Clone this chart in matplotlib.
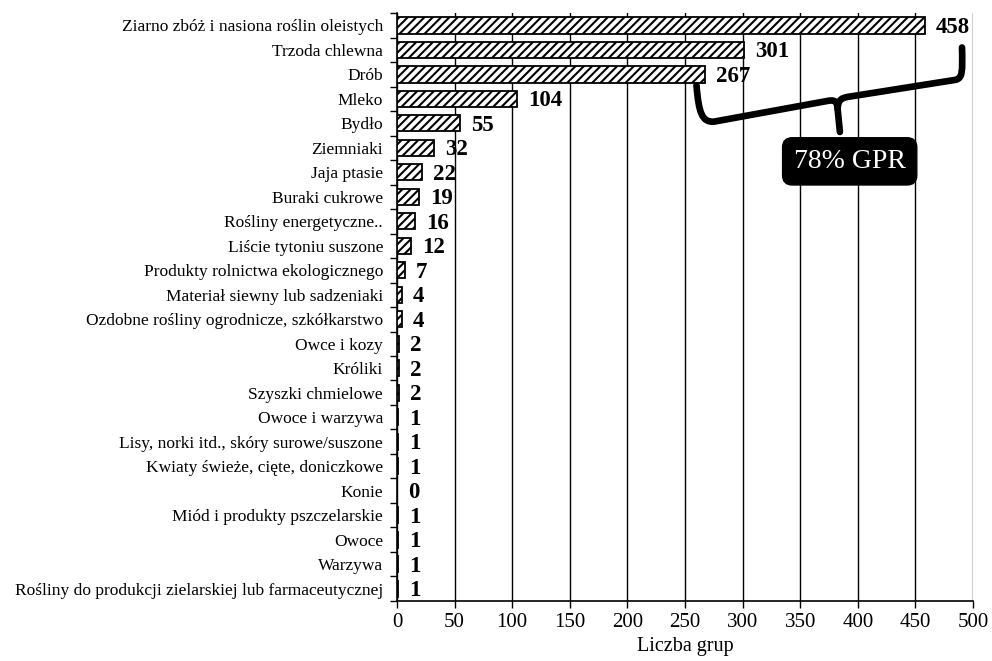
import numpy as np
import matplotlib.pyplot as plt
from matplotlib.path import Path
from matplotlib.patches import PathPatch

plt.rcParams['font.family'] = ['Liberation Serif', 'DejaVu Serif']
plt.rcParams['hatch.linewidth'] = 1.5

categories = [
    'Ziarno zbóż i nasiona roślin oleistych',
    'Trzoda chlewna',
    'Drób',
    'Mleko',
    'Bydło',
    'Ziemniaki',
    'Jaja ptasie',
    'Buraki cukrowe',
    'Rośliny energetyczne..',
    'Liście tytoniu suszone',
    'Produkty rolnictwa ekologicznego',
    'Materiał siewny lub sadzeniaki',
    'Ozdobne rośliny ogrodnicze, szkółkarstwo',
    'Owce i kozy',
    'Króliki',
    'Szyszki chmielowe',
    'Owoce i warzywa',
    'Lisy, norki itd., skóry surowe/suszone',
    'Kwiaty świeże, cięte, doniczkowe',
    'Konie',
    'Miód i produkty pszczelarskie',
    'Owoce',
    'Warzywa',
    'Rośliny do produkcji zielarskiej lub farmaceutycznej',
]
values = [458, 301, 267, 104, 55, 32, 22, 19, 16, 12, 7, 4, 4, 2, 2, 2, 1, 1, 1, 0, 1, 1, 1, 1]
xticks = [0, 50, 100, 150, 200, 250, 300, 350, 400, 450, 500]

fig = plt.figure(figsize=(9.92, 6.61), dpi=100)
ax = fig.add_axes([0.4002, 0.091, 0.5806, 0.889])

y = np.arange(len(categories))
ax.barh(y, values, height=0.66, color='white', edgecolor='black',
        hatch='////', linewidth=1.3, zorder=3)

for yi, v in zip(y, values):
    ax.annotate(str(v), xy=(v, yi + 0.08), xytext=(8, 0), textcoords='offset points',
                va='center', ha='left', fontsize=16.5, fontweight='bold', zorder=4)

ax.set_xlim(0, 500)
ax.set_ylim(len(categories) - 0.5, -0.5)
ax.set_xticks(xticks)
ax.tick_params(axis='x', labelsize=15, length=5, direction='out', width=1)
ax.set_yticks(y)
ax.set_yticklabels(categories, fontsize=12.5)
ax.set_yticks(np.arange(-0.5, len(categories), 1), minor=True)
ax.tick_params(axis='y', which='major', length=0, pad=10)
ax.tick_params(axis='y', which='minor', length=5, width=1)
ax.grid(axis='x', color='black', linewidth=1.0, zorder=0)
ax.set_axisbelow(True)
for side in ['top', 'right']:
    ax.spines[side].set_visible(False)
ax.spines['left'].set_linewidth(1.2)
ax.spines['bottom'].set_linewidth(1.2)
ax.set_xlabel('Liczba grup', fontsize=14.5, labelpad=4)

# brace grouping the three largest groups
lw = 4.8
left_half = Path(
    [(260, 2.45), (262, 3.6), (265, 3.95), (275, 3.93),
     (374, 3.08), (379, 3.04), (382, 3.05), (382.5, 3.4), (384.5, 4.35)],
    [Path.MOVETO, Path.CURVE4, Path.CURVE4, Path.CURVE4,
     Path.LINETO, Path.CURVE4, Path.CURVE4, Path.CURVE4, Path.LINETO])
right_half = Path(
    [(382.5, 3.4), (383, 3.02), (386, 2.97), (391, 2.92),
     (485, 2.22), (491, 2.15), (491, 1.9), (490.5, 0.9)],
    [Path.MOVETO, Path.CURVE4, Path.CURVE4, Path.CURVE4,
     Path.LINETO, Path.CURVE4, Path.CURVE4, Path.CURVE4])
for p in (left_half, right_half):
    ax.add_patch(PathPatch(p, facecolor='none', edgecolor='black', linewidth=lw,
                           capstyle='round', joinstyle='round', zorder=5))

ax.text(393, 5.55, '78% GPR', color='white', fontsize=20, ha='center', va='center',
        zorder=6,
        bbox=dict(boxstyle='round,pad=0.4,rounding_size=0.35', facecolor='black',
                  edgecolor='black'))

plt.savefig('out.png', dpi=100)
